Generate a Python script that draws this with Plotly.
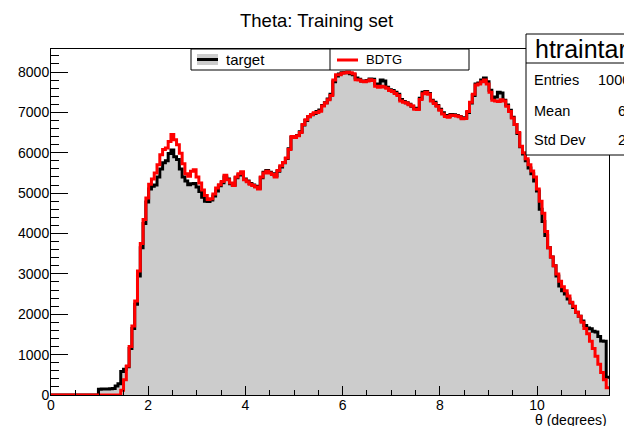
import numpy as np
import plotly.graph_objects as go

# Histogram binning: 200 bins of theta (degrees)
THETA_MIN = 0.0
THETA_MAX = 11.48
N_BINS = 200

# Target distribution, counts per bin
target = [
    0, 0, 0, 0, 0, 0, 0, 0, 0, 0, 0, 0, 0, 0, 0, 0, 0,
    140, 150, 150, 150, 155, 160, 220, 280, 580, 640, 700, 1150, 1650, 2250,
    2950, 3650, 4250, 4780, 5100, 5170, 5200, 5400, 5600, 5750,
    5800, 5980, 6070, 5900, 5830, 5600, 5400, 5300, 5210, 5230,
    5240, 5150, 5040, 4900, 4800, 4790, 4830, 4930, 5050, 5180,
    5260, 5400, 5350, 5230, 5200, 5380, 5450, 5500, 5350, 5300,
    5240, 5200, 5170, 5120, 5380, 5520, 5560, 5520, 5480, 5430,
    5540, 5650, 5750, 5860, 6100, 6380, 6400, 6430, 6520, 6690,
    6800, 6890, 6940, 6970, 7020, 7060, 7170, 7240, 7330, 7450,
    7760, 7900, 7950, 7980, 7990, 7980, 7960, 7930, 7850, 7820,
    7780, 7770, 7790, 7830, 7820, 7700, 7680, 7800, 7780, 7620,
    7560, 7540, 7500, 7450, 7320, 7270, 7240, 7200, 7150, 7100,
    7090, 7350, 7500, 7520, 7470, 7300, 7250, 7170, 7080, 6990,
    6920, 6900, 6950, 6940, 6920, 6900, 6860, 6870, 7000, 7230,
    7420, 7700, 7730, 7800, 7850, 7760, 7550, 7350, 7380, 7500,
    7480, 7300, 7180, 7050, 6880, 6700, 6480, 6150, 5970, 5800,
    5620, 5480, 5300, 5050, 4600, 4300, 3950, 3650, 3420, 3200,
    2950, 2700, 2580, 2500, 2380, 2280, 2170, 2050, 1950, 1830,
    1720, 1660, 1640, 1580, 1560, 1450, 1340, 1330, 440,
]

# BDTG regression output, counts per bin
bdtg = [
    0, 0, 0, 0, 0, 0, 0, 0, 0, 0, 0, 0, 0, 0, 0, 0, 0, 0, 0, 0, 0, 0, 0, 0, 0,
    120, 380, 720, 1200, 1710, 2330, 3070, 3750, 4350, 4880,
    5220, 5350, 5500, 5700, 5950, 6080, 6120, 6280, 6450, 6320,
    6200, 5990, 5730, 5480, 5420, 5540, 5580, 5400, 5250, 5080,
    4940, 4840, 4860, 4980, 5130, 5210, 5290, 5440, 5330, 5250,
    5190, 5400, 5480, 5530, 5330, 5280, 5220, 5190, 5150, 5100,
    5400, 5500, 5540, 5500, 5460, 5400, 5560, 5680, 5760, 5870,
    6080, 6400, 6380, 6420, 6500, 6700, 6820, 6900, 6950, 6990,
    7000, 7030, 7160, 7230, 7310, 7420, 7800, 7930, 7930, 7970,
    7980, 8000, 7980, 7960, 7810, 7800, 7770, 7760, 7780, 7810,
    7790, 7650, 7620, 7645, 7630, 7600, 7540, 7520, 7470, 7420,
    7280, 7250, 7230, 7190, 7160, 7080, 7070, 7320, 7460, 7500,
    7450, 7280, 7220, 7150, 7050, 6960, 6900, 6880, 6930, 6920,
    6910, 6890, 6840, 6850, 7020, 7250, 7450, 7680, 7700, 7760,
    7800, 7700, 7500, 7300, 7280, 7270, 7310, 7280, 7150, 7020,
    6860, 6700, 6500, 6160, 6000, 5850, 5700, 5550, 5400, 5100,
    4800, 4500, 4050, 3650, 3420, 3200, 3000, 2820, 2680, 2580,
    2450, 2300, 2200, 2050, 1950, 1800, 1650, 1520, 1330, 1150,
    960, 760, 560, 380, 180,
]

ENTRIES = 1000000
x_ticks = [0, 2, 4, 6, 8, 10]
y_ticks = [0, 1000, 2000, 3000, 4000, 5000, 6000, 7000, 8000]

edges = np.linspace(THETA_MIN, THETA_MAX, N_BINS + 1)
centers = 0.5 * (edges[:-1] + edges[1:])
t_arr = np.array(target, dtype=float)
b_arr = np.array(bdtg, dtype=float)
mean = float(np.sum(t_arr * centers) / np.sum(t_arr))
std = float(np.sqrt(np.sum(t_arr * (centers - mean) ** 2) / np.sum(t_arr)))

W, H = 624, 426
L, R, T, B = 51, 609, 49, 395
FONT = "Liberation Sans, Arial, Helvetica, sans-serif"


def px(xp):
    return (xp - L) / (R - L)


def py(yp):
    return (B - yp) / (B - T)


fig = go.Figure()
fig.add_trace(go.Scatter(
    x=edges, y=np.append(t_arr, t_arr[-1]), mode="lines",
    line=dict(shape="hv", color="black", width=3),
    fill="tozeroy", fillcolor="#cccccc", showlegend=False, hoverinfo="skip"))
fig.add_trace(go.Scatter(
    x=edges, y=np.append(b_arr, b_arr[-1]), mode="lines",
    line=dict(shape="hv", color="#ff0000", width=3),
    showlegend=False, hoverinfo="skip"))

shapes = []
annotations = []

# legend box
shapes.append(dict(type="rect", xref="paper", yref="paper",
                   x0=px(191), x1=px(469), y0=py(70), y1=py(49),
                   fillcolor="white", line=dict(color="black", width=1), layer="above"))
shapes.append(dict(type="line", xref="paper", yref="paper",
                   x0=px(330), x1=px(330), y0=py(70), y1=py(49),
                   line=dict(color="black", width=1), layer="above"))
shapes.append(dict(type="rect", xref="paper", yref="paper",
                   x0=px(197), x1=px(218), y0=py(65), y1=py(54),
                   fillcolor="#cccccc", line=dict(width=0), layer="above"))
shapes.append(dict(type="line", xref="paper", yref="paper",
                   x0=px(197), x1=px(218), y0=py(59.5), y1=py(59.5),
                   line=dict(color="black", width=3), layer="above"))
shapes.append(dict(type="line", xref="paper", yref="paper",
                   x0=px(337), x1=px(358), y0=py(60), y1=py(60),
                   line=dict(color="#ff0000", width=3), layer="above"))
annotations.append(dict(xref="paper", yref="paper", x=px(224), y=py(59.5),
                        text="target", showarrow=False, xanchor="left", yanchor="middle",
                        font=dict(family=FONT, size=15, color="black")))
annotations.append(dict(xref="paper", yref="paper", x=px(364), y=py(60),
                        text="BDTG", showarrow=False, xanchor="left", yanchor="middle",
                        font=dict(family=FONT, size=13, color="black")))

# statistics box
shapes.append(dict(type="rect", xref="paper", yref="paper",
                   x0=px(526), x1=px(700), y0=py(155), y1=py(34),
                   fillcolor="white", line=dict(color="black", width=1), layer="above"))
shapes.append(dict(type="line", xref="paper", yref="paper",
                   x0=px(526), x1=px(700), y0=py(63), y1=py(63),
                   line=dict(color="black", width=1), layer="above"))
annotations.append(dict(xref="paper", yref="paper", x=px(533), y=py(48.5),
                        text="htraintarget", showarrow=False, xanchor="left", yanchor="middle",
                        font=dict(family=FONT, size=25, color="black")))
stat_rows = [("Entries", f"{ENTRIES:d}", 80), ("Mean", f"{mean:.4g}", 110.5),
             ("Std Dev", f"{std:.4g}", 139.5)]
for name, val, yy in stat_rows:
    annotations.append(dict(xref="paper", yref="paper", x=px(532), y=py(yy),
                            text=name, showarrow=False, xanchor="left", yanchor="middle",
                            font=dict(family=FONT, size=14.5, color="black")))
    annotations.append(dict(xref="paper", yref="paper", x=px(656), y=py(yy),
                            text=val, showarrow=False, xanchor="right", yanchor="middle",
                            font=dict(family=FONT, size=14.5, color="black")))

# title and x-axis label
annotations.append(dict(xref="paper", yref="paper", x=px(316), y=py(20),
                        text="Theta: Training set", showarrow=False,
                        xanchor="center", yanchor="middle",
                        font=dict(family=FONT, size=18.5, color="black")))
annotations.append(dict(xref="paper", yref="paper", x=px(609), y=py(420),
                        text="θ (degrees)", showarrow=False,
                        xanchor="right", yanchor="middle",
                        font=dict(family=FONT, size=14, color="black")))

fig.update_layout(
    width=W, height=H,
    margin=dict(l=L, r=W - R, t=T, b=H - B, pad=0),
    paper_bgcolor="white", plot_bgcolor="white",
    shapes=shapes, annotations=annotations,
    font=dict(family=FONT, size=14, color="black"),
    xaxis=dict(range=[THETA_MIN, THETA_MAX], tickvals=x_ticks, ticks="inside",
               ticklen=9, tickwidth=1, tickcolor="black", ticklabelstandoff=-3,
               minor=dict(dtick=0.5, tick0=0, ticks="inside", ticklen=5,
                          tickcolor="black", tickwidth=1),
               showline=True, linecolor="black", linewidth=1, mirror=True,
               showgrid=False, zeroline=False,
               tickfont=dict(family=FONT, size=14, color="black")),
    yaxis=dict(range=[0, 8570], tickvals=y_ticks, ticks="inside",
               ticklen=17, tickwidth=1, tickcolor="black", ticklabelstandoff=-2,
               minor=dict(dtick=200, tick0=0, ticks="inside", ticklen=8,
                          tickcolor="black", tickwidth=1),
               showline=True, linecolor="black", linewidth=1, mirror=True,
               showgrid=False, zeroline=False,
               tickfont=dict(family=FONT, size=14, color="black")),
)

fig.write_html("out.html")
